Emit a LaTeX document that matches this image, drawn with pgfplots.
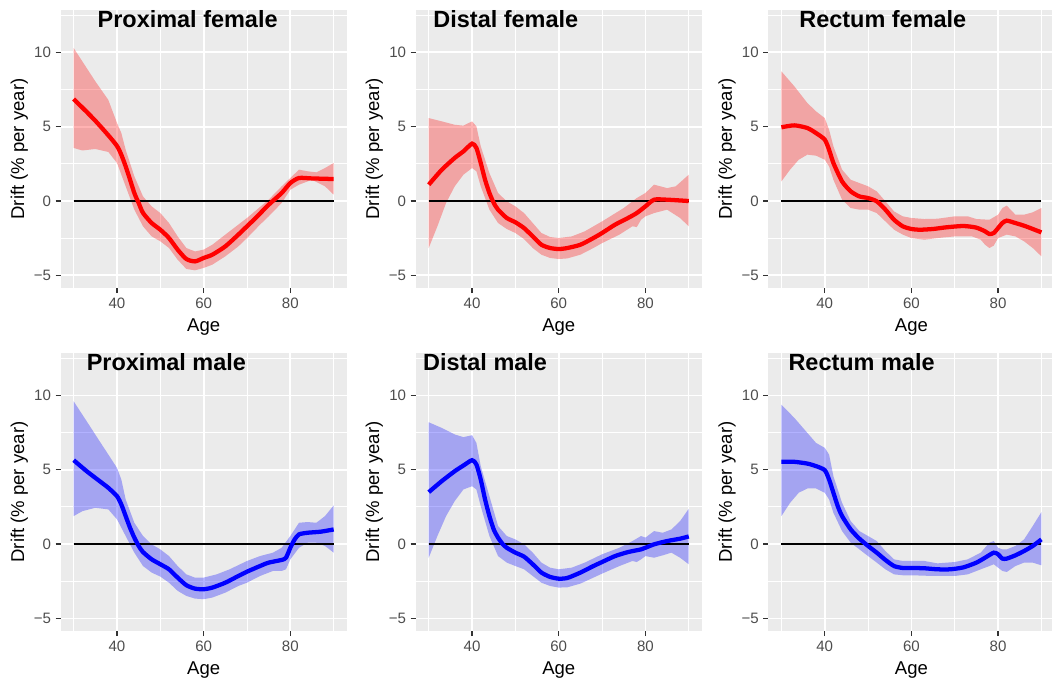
\documentclass[border=0pt]{standalone}
\usepackage{pgfplots}
\pgfplotsset{compat=1.18}
\usepackage{fontspec}
\setmainfont{Liberation Sans}

\definecolor{panelbg}{HTML}{EBEBEB}
\definecolor{tickgray}{HTML}{333333}
\definecolor{labelgray}{HTML}{4D4D4D}

\pgfplotsset{
  driftpanel/.style={
    scale only axis, width=214.5pt, height=208.5pt,
    xmin=27, xmax=93, ymin=-5.85, ymax=12.85,
    axis background/.style={fill=panelbg},
    axis line style={draw=none},
    xtick={40,60,80}, minor xtick={30,50,70,90},
    ytick={-5,0,5,10}, yticklabels={−5,0,5,10},
    minor ytick={-2.5,2.5,7.5,12.5},
    grid=both,
    major grid style={white, line width=1.3pt},
    minor grid style={white, line width=0.65pt},
    tick align=outside, xtick pos=bottom, ytick pos=left,
    major tick length=3.75pt, minor tick length=0pt,
    tick style={tickgray, line width=1.1pt},
    ticklabel style={font=\fontsize{11.3}{13}\selectfont, text=labelgray},
    /pgf/number format/assume math mode=true,
    xlabel={Age}, ylabel={Drift (\% per year)},
    every axis x label/.style={at={(axis description cs:0.5,0)}, anchor=north, inner sep=0pt, yshift=-22.5pt, font=\fontsize{13.9}{16}\selectfont},
    every axis y label/.style={at={(axis description cs:0,0.5)}, xshift=-24.3pt, rotate=90, anchor=south, inner sep=0pt, font=\fontsize{13.9}{16}\selectfont},
    clip mode=individual,
  },
  band/.style={draw=none, fill=#1, fill opacity=0.3},
  fit/.style={#1, line width=3.2pt, smooth, tension=0.4},
  zeroline/.style={black, line width=1.25pt},
}
\newcommand{\paneltitle}[2]{\node[anchor=base, font=\fontsize{17.6}{20}\selectfont\bfseries] at (axis cs:#1,11.67) {#2};}

\begin{document}
\begin{tikzpicture}
\path[use as bounding box] (0,0) rectangle (789pt,-510pt);

% ---------- Proximal female ----------
\begin{axis}[driftpanel, at={(45.5pt,-7.5pt)}, anchor=north west]
\addplot[band=red] coordinates {
(30,10.29)(35,8.05)(38,6.8)(40,5.25)(41,4.57)(42,3.45)(44,1.66)(46,0.31)(48,-0.36)(50,-0.81)(52,-1.48)(54,-2.38)(56,-3.16)(58,-3.39)(60,-3.27)(62,-2.94)(65,-2.26)(70,-1.14)(75,0.09)(78,0.99)(80,1.55)(82,2.11)(84,2.0)(86,1.93)(88,2.22)(90,2.56)
(90,0.43)(88,0.99)(85,1.43)(82,1.1)(80,0.76)(78,-0.13)(75,-1.03)(73,-1.59)(70,-2.49)(68,-3.05)(65,-3.72)(62,-4.28)(60,-4.5)(58,-4.66)(56,-4.57)(54,-3.95)(52,-3.16)(50,-2.71)(48,-2.38)(46,-1.7)(44,-0.58)(42,0.99)(40,2.56)(38,3.3)(35,3.5)(32,3.4)(30,3.57)
} --cycle;
\addplot[zeroline] coordinates {(30,0)(90,0)};
\addplot[fit=red] coordinates {
(30,6.86)(35,5.4)(40,3.7)(42,2.33)(44,0.54)(45,-0.13)(46,-0.8)(48,-1.48)(50,-1.93)(52,-2.49)(54,-3.27)(56,-3.9)(58,-4.06)(60,-3.83)(62,-3.61)(65,-3.05)(68,-2.26)(70,-1.7)(72,-1.14)(75,-0.25)(78,0.54)(80,1.21)(82,1.55)(85,1.52)(90,1.48)
};
\paneltitle{56.3}{Proximal female}
\end{axis}

% ---------- Distal female ----------
\begin{axis}[driftpanel, at={(311.8pt,-7.5pt)}, anchor=north west]
\addplot[band=red] coordinates {
(30,5.58)(33,5.36)(36,5.13)(38,5.07)(40,5.36)(41,5.02)(42,3.68)(44,1.88)(46,0.54)(48,-0.02)(50,-0.36)(52,-0.81)(54,-1.48)(56,-2.15)(58,-2.42)(60,-2.49)(63,-2.38)(66,-2.04)(70,-1.37)(75,-0.47)(78,0.2)(80,0.54)(82,1.1)(85,0.87)(87,0.99)(90,1.77)
(90,-1.7)(88,-1.14)(85,-0.58)(82,-0.81)(80,-1.03)(79,-1.26)(78,-1.75)(77,-1.7)(74,-2.26)(70,-2.83)(68,-3.16)(65,-3.61)(62,-3.86)(60,-3.9)(58,-3.83)(56,-3.61)(54,-3.16)(52,-2.56)(50,-2.15)(48,-1.88)(46,-1.48)(44,-0.58)(42,0.99)(41,2.0)(40,2.22)(38,1.77)(36,0.99)(34,-0.13)(32,-1.7)(30,-3.16)
} --cycle;
\addplot[zeroline] coordinates {(30,0)(90,0)};
\addplot[fit=red] coordinates {
(30,1.1)(33,2.1)(36,2.9)(38,3.34)(40,3.86)(41,3.57)(42,2.56)(43,1.43)(44,0.54)(45,-0.13)(46,-0.58)(48,-1.14)(50,-1.43)(52,-1.82)(54,-2.38)(56,-2.94)(58,-3.16)(60,-3.23)(62,-3.16)(65,-2.94)(68,-2.49)(70,-2.15)(73,-1.59)(76,-1.14)(78,-0.81)(80,-0.36)(82,0.09)(85,0.09)(90,0.0)
};
\paneltitle{47.8}{Distal female}
\end{axis}

% ---------- Rectum female ----------
\begin{axis}[driftpanel, at={(576.3pt,-7.5pt)}, anchor=north west]
\addplot[band=red] coordinates {
(30,8.72)(33,7.71)(36,6.59)(38,6.03)(40,5.58)(41,4.8)(42,3.68)(44,2.11)(46,1.43)(48,1.21)(50,0.99)(52,0.65)(54,-0.02)(56,-0.7)(58,-1.03)(60,-1.14)(63,-1.21)(66,-1.19)(70,-1.03)(73,-1.03)(75,-1.21)(78,-1.26)(80,-0.92)(81,-0.47)(82,-0.31)(84,-0.92)(86,-0.92)(88,-0.76)(90,-0.47)
(90,-3.72)(88,-3.16)(86,-2.71)(84,-2.38)(82,-2.26)(80,-2.49)(79,-3.0)(78,-3.16)(77,-2.94)(76,-2.6)(74,-2.38)(70,-2.38)(66,-2.49)(63,-2.6)(60,-2.49)(58,-2.26)(56,-1.93)(54,-1.37)(52,-0.81)(50,-0.58)(48,-0.58)(46,-0.47)(44,0.09)(42,1.43)(41,2.33)(40,2.78)(38,3.05)(36,3.12)(34,2.78)(32,2.11)(30,1.32)
} --cycle;
\addplot[zeroline] coordinates {(30,0)(90,0)};
\addplot[fit=red] coordinates {
(30,4.96)(33,5.09)(36,4.91)(38,4.57)(40,4.13)(41,3.45)(42,2.56)(44,1.32)(46,0.65)(48,0.31)(50,0.2)(52,-0.02)(54,-0.58)(56,-1.26)(58,-1.7)(60,-1.88)(62,-1.93)(65,-1.88)(68,-1.77)(72,-1.68)(75,-1.79)(77,-2.04)(78,-2.22)(79,-2.15)(80,-1.82)(81,-1.48)(82,-1.32)(84,-1.48)(86,-1.66)(88,-1.88)(90,-2.11)
};
\paneltitle{53.4}{Rectum female}
\end{axis}

% ---------- Proximal male ----------
\begin{axis}[driftpanel, at={(45.5pt,-264.75pt)}, anchor=north west]
\addplot[band=blue] coordinates {
(30,9.6)(33,8.26)(36,6.91)(38,6.02)(40,5.12)(41,4.34)(42,3.0)(44,1.43)(46,0.54)(48,-0.02)(50,-0.36)(52,-0.81)(54,-1.48)(56,-2.04)(58,-2.26)(60,-2.26)(63,-2.04)(66,-1.7)(70,-1.14)(73,-0.81)(76,-0.58)(78,-0.25)(80,0.54)(82,1.43)(84,1.48)(86,1.43)(88,1.88)(90,2.6)
(90,-0.58)(88,-0.13)(86,0.09)(84,0.09)(82,-0.25)(80,-1.03)(79,-1.7)(78,-1.81)(76,-1.81)(73,-2.15)(70,-2.6)(68,-2.82)(65,-3.27)(62,-3.6)(60,-3.71)(58,-3.67)(56,-3.49)(54,-3.15)(52,-2.6)(50,-2.19)(48,-1.92)(46,-1.48)(44,-0.58)(42,0.54)(40,1.66)(38,2.33)(35,2.44)(32,2.21)(30,1.88)
} --cycle;
\addplot[zeroline] coordinates {(30,0)(90,0)};
\addplot[fit=blue] coordinates {
(30,5.64)(33,4.9)(36,4.23)(38,3.78)(40,3.22)(41,2.66)(42,1.88)(43,1.1)(44,0.43)(45,-0.13)(46,-0.54)(48,-1.03)(50,-1.36)(52,-1.7)(54,-2.26)(56,-2.77)(58,-3.0)(60,-3.04)(62,-2.93)(65,-2.6)(68,-2.15)(70,-1.86)(73,-1.48)(75,-1.25)(78,-1.07)(79,-0.92)(80,-0.25)(81,0.31)(82,0.65)(84,0.76)(87,0.83)(90,0.98)
};
\paneltitle{51.4}{Proximal male}
\end{axis}

% ---------- Distal male ----------
\begin{axis}[driftpanel, at={(311.8pt,-264.75pt)}, anchor=north west]
\addplot[band=blue] coordinates {
(30,8.19)(33,7.81)(36,7.37)(38,7.19)(40,7.32)(41,6.8)(42,5.24)(44,3.22)(46,1.21)(48,0.54)(50,0.31)(52,-0.02)(54,-0.58)(56,-1.25)(58,-1.59)(60,-1.7)(63,-1.59)(66,-1.25)(70,-0.69)(74,-0.25)(77,0.2)(79,0.54)(80,0.43)(82,0.87)(84,0.76)(86,0.98)(88,1.54)(90,2.37)
(90,-1.36)(88,-0.92)(86,-0.58)(84,-0.76)(82,-0.92)(80,-0.81)(79,-1.03)(78,-1.21)(77,-1.14)(74,-1.48)(70,-1.99)(68,-2.26)(65,-2.66)(62,-2.91)(60,-2.93)(58,-2.82)(56,-2.6)(54,-2.15)(52,-1.7)(50,-1.48)(48,-1.25)(46,-0.81)(44,0.54)(42,2.55)(41,3.67)(40,3.89)(38,3.67)(36,2.89)(34,1.88)(32,0.54)(30,-0.92)
} --cycle;
\addplot[zeroline] coordinates {(30,0)(90,0)};
\addplot[fit=blue] coordinates {
(30,3.49)(33,4.23)(36,4.9)(38,5.28)(40,5.64)(41,5.35)(42,4.34)(43,3.0)(44,1.88)(45,0.98)(46,0.43)(47,0.02)(48,-0.25)(50,-0.58)(52,-0.85)(54,-1.36)(56,-1.92)(58,-2.21)(60,-2.33)(62,-2.28)(65,-1.92)(68,-1.48)(70,-1.21)(73,-0.81)(76,-0.54)(79,-0.36)(80,-0.25)(82,-0.02)(85,0.2)(88,0.36)(90,0.51)
};
\paneltitle{43}{Distal male}
\end{axis}

% ---------- Rectum male ----------
\begin{axis}[driftpanel, at={(576.3pt,-264.75pt)}, anchor=north west]
\addplot[band=blue] coordinates {
(30,9.37)(33,8.48)(36,7.47)(38,6.8)(40,6.47)(41,6.02)(42,4.56)(44,2.77)(46,1.54)(48,0.87)(50,0.54)(52,0.2)(54,-0.47)(56,-1.03)(58,-1.14)(60,-1.14)(63,-1.14)(66,-1.3)(70,-1.21)(73,-1.03)(76,-0.58)(78,0.09)(79,0.2)(80,-0.25)(81,-0.36)(82,-0.36)(84,-0.13)(86,0.31)(88,1.21)(90,2.15)
(90,-1.43)(88,-1.25)(86,-1.25)(84,-1.48)(82,-1.88)(81,-1.81)(80,-1.59)(79,-1.36)(78,-1.48)(76,-1.7)(73,-2.04)(70,-2.15)(65,-2.15)(60,-2.1)(58,-2.1)(56,-2.04)(54,-1.7)(52,-1.25)(50,-0.81)(48,-0.36)(46,0.09)(44,0.87)(42,2.1)(41,3.0)(40,3.45)(38,3.74)(36,3.74)(34,3.45)(32,2.77)(30,1.88)
} --cycle;
\addplot[zeroline] coordinates {(30,0)(90,0)};
\addplot[fit=blue] coordinates {
(30,5.53)(33,5.53)(36,5.41)(38,5.24)(40,4.97)(41,4.34)(42,3.45)(43,2.55)(44,1.88)(46,0.98)(48,0.36)(50,-0.13)(52,-0.58)(54,-1.07)(56,-1.48)(58,-1.61)(60,-1.61)(63,-1.63)(66,-1.7)(69,-1.7)(72,-1.57)(75,-1.25)(77,-0.92)(79,-0.58)(80,-0.69)(81,-0.98)(82,-0.98)(84,-0.76)(86,-0.47)(88,-0.13)(90,0.31)
};
\paneltitle{48.5}{Rectum male}
\end{axis}
\end{tikzpicture}
\end{document}
